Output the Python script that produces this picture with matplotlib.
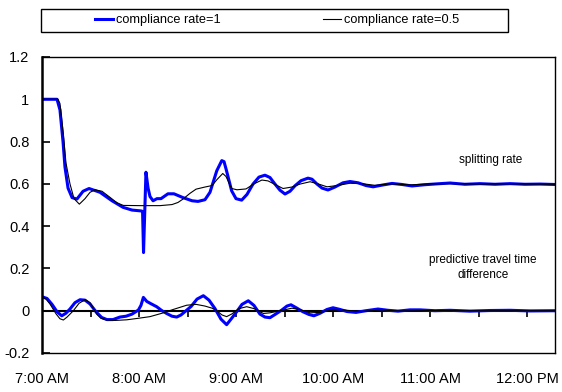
import matplotlib
matplotlib.use("Agg")
import matplotlib.pyplot as plt
from matplotlib.patches import Rectangle
from matplotlib.lines import Line2D

plt.rcParams['font.family'] = ['Liberation Sans', 'DejaVu Sans']

# minutes after 7:00 AM
split_c1_t = [0, 9.3, 11.1, 13.0, 14.2, 16.1, 18.6, 21.6, 25.4, 29.1, 35.9, 43.3, 50.1, 55.7, 61.2, 62.2,
              62.8, 64.3, 65.6, 66.8, 68.7, 71.1, 73.6, 77.9, 81.6, 87.2, 92.8, 96.5, 100.8, 103.9, 108.1,
              111.2, 112.6, 114.2, 117.3, 120.0, 123.5, 126.8, 130.5, 134.2, 137.9, 141.0, 144.1, 147.2,
              150.3, 153.4, 156.5, 160.2, 164.5, 167.0, 170.1, 173.2, 176.9, 181.2, 186.2, 190.5, 195.5,
              200.4, 204.8, 210.3, 216.5, 222.7, 228.9, 236.9, 244.3, 252.4, 261.6, 270.9, 280.2, 289.5,
              298.8, 308.0, 317.3]
split_c1 = [1.0, 1.0, 0.95, 0.80, 0.68, 0.58, 0.535, 0.528, 0.565, 0.578, 0.56, 0.52, 0.489, 0.476, 0.472, 0.47,
            0.275, 0.655, 0.58, 0.54, 0.52, 0.53, 0.53, 0.553, 0.553, 0.535, 0.52, 0.517, 0.525, 0.56, 0.662,
            0.71, 0.705, 0.66, 0.567, 0.53, 0.523, 0.55, 0.599, 0.632, 0.641, 0.63, 0.599, 0.57,
            0.552, 0.565, 0.591, 0.615, 0.627, 0.622, 0.599, 0.58, 0.571, 0.585, 0.605, 0.611, 0.605,
            0.592, 0.586, 0.594, 0.602, 0.597, 0.59, 0.596, 0.6, 0.604, 0.598, 0.601, 0.598, 0.601,
            0.598, 0.599, 0.597]

split_c05_t = [0, 9.9, 11.1, 13.2, 14.8, 17.3, 19.8, 23.1, 26.6, 29.7, 32.8, 37.1, 42.1, 46.4, 50.3, 60.6,
               73.0, 80.4, 84.1, 87.2, 91.5, 95.3, 100.8, 105.2, 108.2, 111.8, 113.8, 117.3, 120.6, 126.2,
               131.1, 136.0, 139.8, 144.7, 149.1, 154.6, 159.6, 165.8, 170.7, 176.3, 182.5, 190.5, 197.9,
               206.0, 215.3, 227.6, 240.0, 252.4, 270.9, 289.5, 317.3]
split_c05 = [1.0, 1.0, 0.98, 0.836, 0.7, 0.6, 0.53, 0.504, 0.53, 0.56, 0.572, 0.565, 0.536, 0.51, 0.498, 0.497,
             0.497, 0.502, 0.512, 0.528, 0.555, 0.575, 0.585, 0.592, 0.62, 0.649, 0.635, 0.578, 0.572, 0.576,
             0.6, 0.618, 0.614, 0.595, 0.578, 0.585, 0.599, 0.61, 0.6, 0.586, 0.592, 0.603, 0.601,
             0.593, 0.6, 0.595, 0.6, 0.601, 0.599, 0.6, 0.598]

tt_c1_t = [0, 3.1, 6.2, 9.3, 12.2, 14.8, 17.3, 20.4, 23.5, 26.6, 29.7, 33.4, 36.9, 40.2, 43.9, 48.2, 52.0,
           55.7, 59.6, 61.2, 62.7, 64.8, 67.4, 70.9, 74.2, 77.1, 80.4, 83.3, 86.0, 89.1, 92.2, 95.9, 99.8,
           103.3, 107.0, 110.7, 114.2, 116.9, 120.4, 123.7, 127.6, 131.1, 134.8, 137.9, 141.0, 144.7, 148.3,
           151.5, 154.0, 157.7, 161.4, 165.2, 168.2, 172.0, 176.3, 180.0, 184.3, 188.7, 194.2, 200.4, 207.8,
           214.0, 220.2, 227.6, 233.8, 243.1, 252.4, 264.7, 277.1, 289.5, 301.8, 317.3]
tt_c1 = [0.066, 0.058, 0.03, -0.005, -0.024, -0.012, 0.008, 0.038, 0.052, 0.05, 0.032, -0.005, -0.032, -0.042,
         -0.042, -0.03, -0.026, -0.016, 0.003, 0.025, 0.063, 0.044, 0.033, 0.019, 0.0, -0.013, -0.026, -0.03,
         -0.02, 0.0, 0.02, 0.055, 0.071, 0.05, 0.01, -0.04, -0.066, -0.04, -0.005, 0.03, 0.047, 0.025, -0.016,
         -0.03, -0.033, -0.015, 0.003, 0.022, 0.028, 0.012, -0.005, -0.018, -0.024, -0.012, 0.006, 0.014,
         0.006, -0.004, -0.008, 0.0, 0.008, 0.002, -0.002, 0.004, 0.004, 0.0, 0.002, -0.002, 0.001, 0.002,
         -0.001, 0.0]

tt_c05_t = [0, 2.5, 4.9, 8.7, 11.1, 13.2, 15.5, 19.4, 22.9, 26.6, 29.7, 33.8, 36.5, 40.0, 45.2, 52.4, 59.4,
            66.8, 74.2, 81.2, 89.5, 95.3, 100.8, 105.2, 108.1, 111.3, 114.2, 117.5, 121.9, 126.6, 131.1, 136.9,
            141.0, 149.3, 154.6, 159.6, 165.8, 172.0, 180.0, 187.4, 196.7, 209.1, 221.4, 240.0, 264.7, 317.3]
tt_c05 = [0.066, 0.055, 0.032, -0.015, -0.038, -0.044, -0.03, 0.0, 0.035, 0.052, 0.038, -0.016, -0.036, -0.044,
          -0.046, -0.043, -0.036, -0.028, -0.012, 0.006, 0.026, 0.03, 0.022, 0.012, 0.0, -0.02, -0.028, -0.015,
          0.01, 0.019, 0.01, -0.013, -0.01, 0.003, 0.012, 0.005, -0.01, -0.008, 0.006, 0.003, -0.004, 0.003,
          -0.001, 0.001, 0.0, 0.0]

hour_ticks = [0, 60, 120, 180, 240, 300]
hour_labels = ['7:00 AM', '8:00 AM', '9:00 AM', '10:00 AM', '11:00 AM', '12:00 PM']
half_ticks = [30, 60, 90, 120, 150, 180, 210, 240, 270, 300]
y_ticks = [-0.2, 0, 0.2, 0.4, 0.6, 0.8, 1.0, 1.2]
y_labels = ['-0.2', '0', '0.2', '0.4', '0.6', '0.8', '1', '1.2']

fig = plt.figure(figsize=(5.62, 3.92), dpi=100)
ax = fig.add_axes([42 / 562, 1 - 353 / 392, (555 - 42) / 562, (353 - 57) / 392])

blue = '#0000ff'
ax.axhline(0, color='black', lw=1.5, zorder=1)
ax.vlines(half_ticks, -0.028, 0, color='black', lw=1.2, zorder=1)

ax.plot(split_c1_t, split_c1, color=blue, lw=2.2, zorder=2, solid_joinstyle='round')
ax.plot(tt_c1_t, tt_c1, color=blue, lw=2.2, zorder=2, solid_joinstyle='round')
ax.plot(split_c05_t, split_c05, color='black', lw=0.8, zorder=3)
ax.plot(tt_c05_t, tt_c05, color='black', lw=0.8, zorder=3)

ax.set_xlim(0, 317.3)
ax.set_ylim(-0.2, 1.2)
ax.set_xticks(hour_ticks)
ax.set_xticklabels(hour_labels, fontsize=10.5)
ax.tick_params(axis='x', length=0, pad=14)
ax.set_yticks(y_ticks)
ax.set_yticklabels(y_labels, fontsize=10.5)
ax.tick_params(axis='y', direction='in', length=6, width=1.2, pad=9)

for s in ['top', 'right', 'bottom']:
    ax.spines[s].set_linewidth(1.0)
ax.spines['left'].set_linewidth(1.8)

ax.text(277.7, 0.714, 'splitting rate', fontsize=8.5, ha='center', va='center')
ax.text(272.8, 0.203, 'predictive travel time\ndifference', fontsize=8.5, ha='center', va='center',
        linespacing=1.35)

# legend box
bx0, bx1, by0, by1 = 41 / 562, 508 / 562, 1 - 32 / 392, 1 - 9 / 392
fig.patches.append(Rectangle((bx0, by0), bx1 - bx0, by1 - by0, transform=fig.transFigure,
                             fill=False, edgecolor='black', lw=1.0))
h1 = Line2D([], [], color=blue, lw=2.2)
h2 = Line2D([], [], color='black', lw=0.8)
ymid = (by0 + by1) / 2
xm = (bx0 + bx1) / 2
for h, lab, cx in [(h1, 'compliance rate=1', (bx0 + xm) / 2), (h2, 'compliance rate=0.5', (xm + bx1) / 2)]:
    fig.legend([h], [lab], loc='center', bbox_to_anchor=(cx, ymid), frameon=False, fontsize=9.2,
               handlelength=1.4, handletextpad=0.2, borderpad=0, borderaxespad=0)

fig.savefig('out.png', dpi=100)
